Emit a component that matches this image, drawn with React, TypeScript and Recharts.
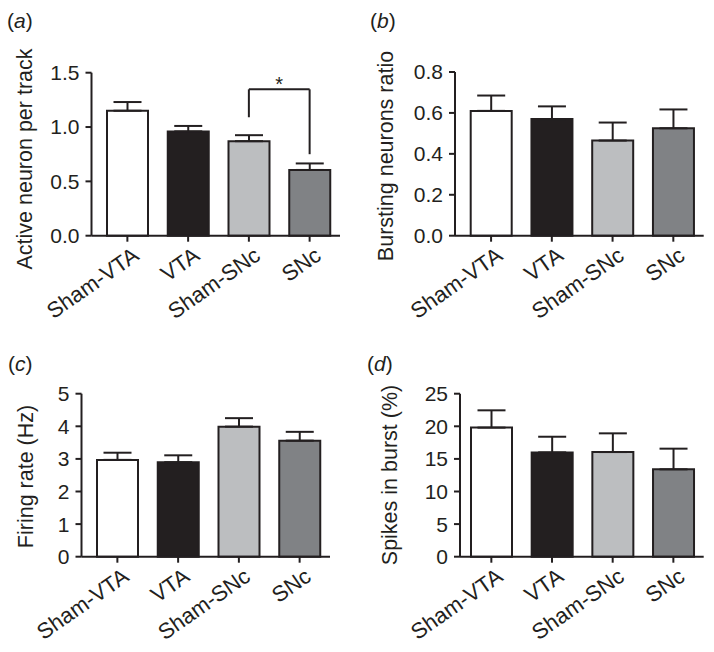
import React from 'react';
import { BarChart, Bar, XAxis, YAxis, Cell, ErrorBar, ReferenceLine, Label } from 'recharts';

const INK = '#231f20';
const FONT = '"Liberation Sans", Arial, Helvetica, sans-serif';

const categories = ['Sham-VTA', 'VTA', 'Sham-SNc', 'SNc'];
const barColors = ['#ffffff', '#231f20', '#bcbec0', '#808285'];

// (a) Active neuron per track
const activeMean = [1.15, 0.96, 0.87, 0.605];
const activeSem = [0.08, 0.05, 0.055, 0.06];
const activeTicks = [0, 0.5, 1.0, 1.5];

// (b) Bursting neurons ratio
const burstRatioMean = [0.61, 0.57, 0.465, 0.525];
const burstRatioSem = [0.075, 0.062, 0.088, 0.092];
const burstRatioTicks = [0, 0.2, 0.4, 0.6, 0.8];

// (c) Firing rate (Hz)
const firingMean = [2.97, 2.9, 3.99, 3.56];
const firingSem = [0.22, 0.21, 0.26, 0.27];
const firingTicks = [0, 1, 2, 3, 4, 5];

// (d) Spikes in burst (%)
const spikesMean = [19.8, 16.0, 16.05, 13.4];
const spikesSem = [2.65, 2.4, 2.87, 3.17];
const spikesTicks = [0, 5, 10, 15, 20, 25];

// significance bracket in (a)
const sigPair = ['Sham-SNc', 'SNc'];
const sigBracketY = 1.347;
const sigLegBottoms = [1.09, 0.75];
const sigMark = '*';

const panelLetters = ['a', 'b', 'c', 'd'];
const yTitles = ['Active neuron per track', 'Bursting neurons ratio', 'Firing rate (Hz)', 'Spikes in burst (%)'];

const W = 357;

type Cfg = {
  left: number; top: number; height: number;
  plotLeft: number; plotRight: number; plotTop: number; plotBottom: number;
  padLeft: number;
  mean: number[]; sem: number[]; ticks: number[];
  fmt: (v: number) => string;
  title: string; titleX: number; titleY: number;
  letter: string; letterX: number; letterY: number;
  sig?: boolean;
};

const fmt1 = (v: number) => v.toFixed(1);
const fmt0 = (v: number) => String(v);

const panels: Cfg[] = [
  { left: 0, top: 0, height: 345, plotLeft: 91.5, plotRight: 340, plotTop: 72.7, plotBottom: 235.7, padLeft: 5.5,
    mean: activeMean, sem: activeSem, ticks: activeTicks, fmt: fmt1,
    title: yTitles[0], titleX: 32, titleY: 159, letter: panelLetters[0], letterX: 7, letterY: 27.5, sig: true },
  { left: 357, top: 0, height: 345, plotLeft: 455, plotRight: 703.7, plotTop: 72, plotBottom: 235.7, padLeft: 5.7,
    mean: burstRatioMean, sem: burstRatioSem, ticks: burstRatioTicks, fmt: fmt1,
    title: yTitles[1], titleX: 36, titleY: 156, letter: panelLetters[1], letterX: 370, letterY: 28 },
  { left: 0, top: 326, height: 326, plotLeft: 81.5, plotRight: 330, plotTop: 393.7, plotBottom: 556.7, padLeft: 5.5,
    mean: firingMean, sem: firingSem, ticks: firingTicks, fmt: fmt0,
    title: yTitles[2], titleX: 33, titleY: 150.5, letter: panelLetters[2], letterX: 8, letterY: 371 },
  { left: 357, top: 326, height: 326, plotLeft: 460, plotRight: 703.7, plotTop: 393.7, plotBottom: 556.7, padLeft: 1,
    mean: spikesMean, sem: spikesSem, ticks: spikesTicks, fmt: fmt0,
    title: yTitles[3], titleX: 40, titleY: 149, letter: panelLetters[3], letterX: 367, letterY: 371 },
];

const CatTick = (props: any) => {
  const { x, y, payload } = props;
  const ax = x + 13;
  const ay = y + 15;
  return (
    <text x={ax} y={ay} textAnchor="end" fontSize={22} fill={INK} fontFamily={FONT}
      transform={`rotate(-35, ${ax}, ${ay})`}>
      {payload.value}
    </text>
  );
};

function Panel({ cfg }: { cfg: Cfg }) {
  const H = cfg.height;
  const data = categories.map((c, i) => ({ name: c, mean: cfg.mean[i], err: [0, cfg.sem[i]] }));
  const pl = cfg.plotLeft - cfg.left;
  const pr = cfg.plotRight - cfg.left;
  const pt = cfg.plotTop - cfg.top;
  const pb = cfg.plotBottom - cfg.top;
  const yMax = cfg.ticks[cfg.ticks.length - 1];
  const titleContent = () => (
    <text x={cfg.titleX} y={cfg.titleY} textAnchor="middle" fontSize={21.5} fill={INK} fontFamily={FONT}
      transform={`rotate(-90, ${cfg.titleX}, ${cfg.titleY})`}>
      {cfg.title}
    </text>
  );
  return (
    <div style={{ position: 'absolute', left: cfg.left, top: cfg.top, width: W, height: H }}>
      <BarChart width={W} height={H} data={data} margin={{ top: pt, right: W - pr, bottom: 0, left: 0 }}>
        <XAxis dataKey="name" height={H - pb} padding={{ left: cfg.padLeft, right: 0 }}
          axisLine={{ stroke: INK, strokeWidth: 2 }} tickLine={{ stroke: INK, strokeWidth: 2 }}
          tickSize={6} tick={<CatTick />} interval={0} />
        <YAxis width={pl} domain={[0, yMax]} ticks={cfg.ticks} tickFormatter={cfg.fmt} interval={0}
          axisLine={{ stroke: INK, strokeWidth: 2 }} tickLine={{ stroke: INK, strokeWidth: 2 }}
          tickSize={6} tickMargin={6} tick={{ fill: INK, fontSize: 21, fontFamily: FONT }}>
          <Label content={titleContent} />
        </YAxis>
        <Bar dataKey="mean" barSize={41} stroke={INK} strokeWidth={2} isAnimationActive={false}>
          {data.map((d, i) => <Cell key={d.name} fill={barColors[i]} />)}
          <ErrorBar dataKey="err" direction="y" width={14} stroke={INK} strokeWidth={2} isAnimationActive={false} />
        </Bar>
        {cfg.sig && (
          <ReferenceLine segment={[{ x: sigPair[0], y: sigBracketY }, { x: sigPair[1], y: sigBracketY }]}
            stroke={INK} strokeWidth={2}
            label={{ value: sigMark, position: 'top', offset: -2, fill: INK, fontSize: 20, fontFamily: FONT }} />
        )}
        {cfg.sig && (
          <ReferenceLine segment={[{ x: sigPair[0], y: sigLegBottoms[0] }, { x: sigPair[0], y: sigBracketY }]}
            stroke={INK} strokeWidth={2} />
        )}
        {cfg.sig && (
          <ReferenceLine segment={[{ x: sigPair[1], y: sigLegBottoms[1] }, { x: sigPair[1], y: sigBracketY }]}
            stroke={INK} strokeWidth={2} />
        )}
      </BarChart>
    </div>
  );
}

export default function App() {
  return (
    <div style={{ position: 'absolute', left: 0, top: 0, width: 714, height: 652, background: '#ffffff', fontFamily: FONT }}>
      {panels.map((p) => <Panel key={p.letter} cfg={p} />)}
      <svg width={714} height={652} style={{ position: 'absolute', left: 0, top: 0, pointerEvents: 'none' }}>
        {panels.map((p) => (
          <text key={p.letter} x={p.letterX} y={p.letterY} fontSize={21} fill={INK} fontFamily={FONT}>
            (<tspan fontStyle="italic">{p.letter}</tspan>)
          </text>
        ))}
      </svg>
    </div>
  );
}
